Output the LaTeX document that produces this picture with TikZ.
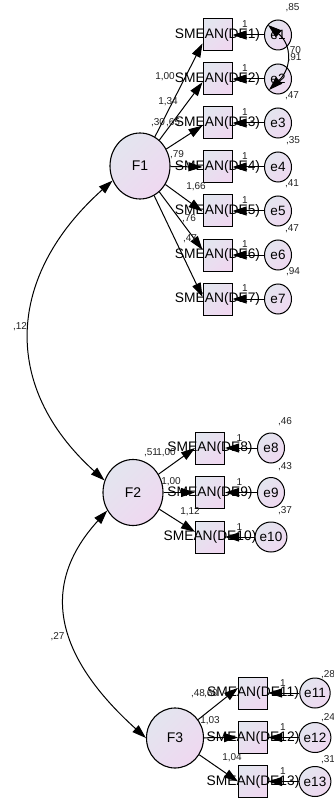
\documentclass[tikz,border=0pt]{standalone}
\usepackage{fontspec}
\setmainfont{Liberation Sans}
\usetikzlibrary{arrows.meta,shapes.geometric}
\definecolor{fillA}{HTML}{E3E5EF}
\definecolor{fillB}{HTML}{EFD8F0}
\definecolor{numc}{HTML}{222222}
\begin{document}
\begin{tikzpicture}[x=1pt,y=-1pt,
  shadefill/.style={top color=fillA, bottom color=fillB, shading angle=45},
  lat/.style={ellipse, draw, line width=1.1pt, shadefill, minimum width=60pt, minimum height=66pt, inner sep=0pt, font=\fontsize{14}{14}\selectfont},
  obs/.style={rectangle, draw, line width=1pt, shadefill, minimum width=29pt, minimum height=32pt, inner sep=0pt},
  err/.style={ellipse, draw, line width=1pt, shadefill, minimum width=27pt, minimum height=30pt, inner sep=0pt, font=\fontsize{13.5}{13.5}\selectfont},
  obstext/.style={font=\fontsize{13.8}{13.8}\selectfont, inner sep=0pt},
  num/.style={font=\fontsize{10}{10}\selectfont, text=numc, inner sep=0pt},
  arr/.style={line width=1pt, -{Triangle[length=14pt,width=9pt]}},
  darr/.style={line width=1pt, {Triangle[length=14pt,width=9pt]}-{Triangle[length=14pt,width=9pt]}}
]
\useasboundingbox (0,0) rectangle (334,802);

% latent factors
\node[lat] (F1) at (140,166) {F1};
\node[lat] (F2) at (133,492.5) {F2};
\node[lat, minimum width=57pt, minimum height=60pt] (F3) at (175,738) {F3};

% F1 group
\foreach \i/\y in {1/35,2/79,3/123,4/167,5/211,6/255,7/299}{
  \node[obs, label={[obstext]center:SMEAN(DE\i)}] (b\i) at (217.5,\y) {};
  \node[err] (e\i) at (278,\y) {e\i};
  \draw[arr] (e\i) -- (b\i);
  \node[num] (one\i) at (245,\y-11) {1};
}
% F2 group
\foreach \i/\y in {8/448,9/492.5,10/537}{
  \node[obs, label={[obstext]center:SMEAN(DE\i)}] (b\i) at (210,\y) {};
  \node[err] (e\i) at (271,\y) {e\i};
  \draw[arr] (e\i) -- (b\i);
  \node[num] (one\i) at (239.5,\y-10) {1};
}
% F3 group
\foreach \i/\y in {11/693,12/737.5,13/781.5}{
  \node[obs, label={[obstext]center:SMEAN(DE\i)}] (b\i) at (253,\y) {};
  \node[err] (e\i) at (315,\y) {e\i};
  \draw[arr] (e\i) -- (b\i);
  \node[num] (one\i) at (283,\y-10) {1};
}

% loadings
\draw[arr] (F1) -- (b1.209);
\draw[arr] (F1) -- (b2.192);
\draw[arr] (F1) -- (b3.190);
\draw[arr] (F1) -- (b4.west);
\draw[arr] (F1) -- (b5.182);
\draw[arr] (F1) -- (b6.161);
\draw[arr] (F1) -- (b7.172);
\draw[arr] (F2) -- (b8.west);
\draw[arr] (F2) -- (b9.west);
\draw[arr] (F2) -- (b10.161);
\draw[arr] (F3) -- (b11.161);
\draw[arr] (F3) -- (b12.west);
\draw[arr] (F3) -- (b13.west);

% covariances between factors
\draw[darr] (F1.208) .. controls (7,275) and (0,386) .. (F2.157);
\draw[darr] (F2.215) .. controls (33,592) and (64,664) .. (F3.180);
\node[num] (c12) at (20,327) {,12};
\node[num] (c27) at (57.5,637) {,27};

% covariance e1-e2
\coordinate (ca) at (268,25);
\coordinate (cb) at (269,90);
\draw[darr] (ca) .. controls (292,45) and (292,68) .. (cb);
\node[num] (c70) at (294,51) {,70};

% error variances
\node[num] (v1) at (292.5,8) {,85};
\node[num] (v2) at (294.5,58) {,91};
\node[num] (v3) at (292,96) {,47};
\node[num] (v4) at (293,141) {,35};
\node[num] (v5) at (292,184) {,41};
\node[num] (v6) at (292,229) {,47};
\node[num] (v7) at (293,272) {,94};
\node[num] (v8) at (285,422) {,46};
\node[num] (v9) at (285,467) {,43};
\node[num] (v10) at (285,511) {,37};
\node[num] (v11) at (328,675) {,28};
\node[num] (v12) at (328,718) {,24};
\node[num] (v13) at (328,760) {,31};

% factor variances and loadings labels
\node[num] (vF1) at (158,123) {,30};
\node[num] (l3) at (173,123) {,65};
\node[num] (l1) at (165,77) {1,00};
\node[num] (l2) at (168,102) {1,34};
\node[num] (l4) at (177,155) {,79};
\node[num] (l5) at (196,187) {1,66};
\node[num] (l6) at (189,219) {,76};
\node[num] (l7) at (190,239) {,47};
\node[num] (vF2) at (151,453) {,51};
\node[num] (l8) at (166,453) {1,00};
\node[num] (l9) at (171,482) {1,00};
\node[num] (l10) at (190,512) {1,12};
\node[num] (vF3) at (198,694) {,48};
\node[num] (l11) at (211,694) {,60};
\node[num] (l12) at (210,721) {1,03};
\node[num] (l13) at (232,758) {1,04};
\end{tikzpicture}
\end{document}
